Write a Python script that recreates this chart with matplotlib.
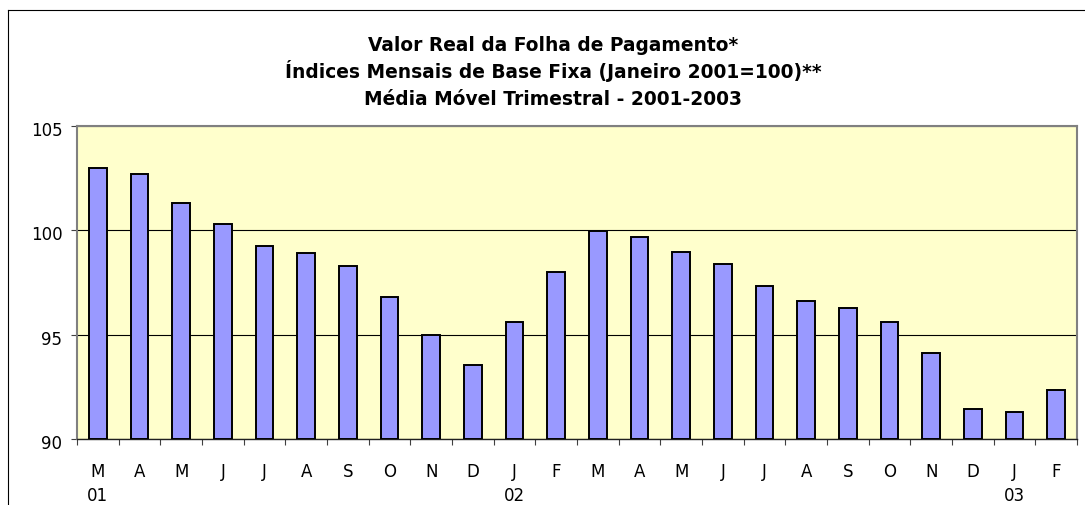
import matplotlib.pyplot as plt
import matplotlib.transforms as mtransforms
from matplotlib.lines import Line2D
import numpy as np

plt.rcParams['font.family'] = ['DejaVu Sans']

# dados (media movel trimestral)
meses = ['M', 'A', 'M', 'J', 'J', 'A', 'S', 'O', 'N', 'D', 'J', 'F',
         'M', 'A', 'M', 'J', 'J', 'A', 'S', 'O', 'N', 'D', 'J', 'F']
anos = {0: '01', 10: '02', 22: '03'}
valores = [103.0, 102.7, 101.3, 100.3, 99.25, 98.9, 98.28, 96.8,
           95.0, 93.55, 95.6, 98.0, 99.95, 99.68, 98.98, 98.37,
           97.35, 96.63, 96.3, 95.6, 94.14, 91.43, 91.28, 92.36]

titulo = ['Valor Real da Folha de Pagamento*',
          'Índices Mensais de Base Fixa (Janeiro 2001=100)**',
          'Média Móvel Trimestral - 2001-2003']

W, H = 1085, 506
fig = plt.figure(figsize=(W / 100, H / 100), dpi=100)
ax = fig.add_axes([77 / W, 1 - 440 / H, 1000 / W, 313 / H])

# moldura externa (so topo e esquerda aparecem)
fig.add_artist(Line2D([8 / W, 1.0], [1 - 11 / H] * 2, transform=fig.transFigure,
                      color='black', linewidth=0.8))
fig.add_artist(Line2D([8 / W] * 2, [0.0, 1 - 11 / H], transform=fig.transFigure,
                      color='black', linewidth=0.8))

x = np.arange(len(valores))
ax.set_facecolor('#FFFFCC')
ax.bar(x, np.array(valores) - 90, bottom=90, width=0.425,
       color='#9999FF', edgecolor='black', linewidth=1.4, zorder=3)

ax.set_xlim(-0.5, len(valores) - 0.5)
ax.set_ylim(90, 105)
ax.set_yticks([90, 95, 100, 105])
ax.yaxis.grid(True, color='black', linewidth=0.8)
ax.set_axisbelow(True)

ax.set_xticks(np.arange(-0.5, len(valores), 1))
ax.set_xticklabels([])
ax.set_xticks(x, minor=True)
ax.set_xticklabels(meses, minor=True)
ax.tick_params(axis='x', which='major', length=4, width=0.8, color='#404040')
ax.tick_params(axis='x', which='minor', length=0, pad=16.5, labelsize=12)
ax.tick_params(axis='y', length=4, width=0.8, color='#404040', labelsize=12, pad=6.5)

for lbl in ax.get_yticklabels():
    lbl.set_transform(lbl.get_transform() +
                      mtransforms.ScaledTranslation(0, -2 / 100, fig.dpi_scale_trans))

for i, a in anos.items():
    ax.annotate(a, xy=(i, 0), xycoords=('data', 'axes fraction'),
                xytext=(0, -40), textcoords='offset points',
                ha='center', va='center', fontsize=12)

for s in ['top', 'right', 'left']:
    ax.spines[s].set_color('#808080')
    ax.spines[s].set_linewidth(1.5)
ax.spines['bottom'].set_color('#202020')
ax.spines['bottom'].set_linewidth(1.0)

for i, t in enumerate(titulo):
    fig.text(553 / W, 1 - (50.7 + 27 * i) / H, t, ha='center', va='baseline',
             fontsize=13.4, fontweight='bold')

fig.savefig('out.png', dpi=100)
